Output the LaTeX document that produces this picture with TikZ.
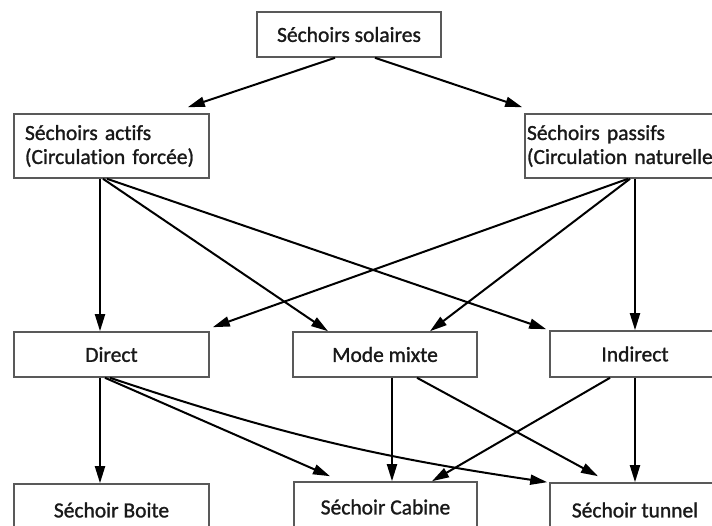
\documentclass[tikz,border=0pt]{standalone}
\usepackage{fontspec}
\setmainfont{Carlito}[Ligatures=CommonOff, UprightFeatures={FakeBold=1.2}]
\usetikzlibrary{arrows.meta}

\begin{document}
\begin{tikzpicture}[x=1pt, y=-1pt,
    box/.style={draw=black!65, line width=1.6pt, fill=white, inner sep=0pt,
      font=\fontsize{21.5}{24}\selectfont, text=black!90},
    link/.style={line width=2pt, -{Triangle[length=17pt,width=10pt]}}]
  \useasboundingbox (0,0) rectangle (712,526);
  \clip (0,0) rectangle (712,526);
  % boxes
  \node[box, minimum width=184pt, minimum height=45pt] (solaires) at (349,34.5) {Séchoirs solaires};
  \node[box, minimum height=64pt, text width=173pt, inner xsep=11pt, align=left]
    (actifs) at (111.5,146) {Séchoirs actifs\\(Circulation forcée)};
  \node[box, minimum height=64pt, text width=211pt, inner xsep=2pt, align=left]
    (passifs) at (632.5,146) {Séchoirs passifs\\(Circulation naturelle};
  \node[box, minimum width=195pt, minimum height=45pt] (direct) at (111.5,354.5) {Direct};
  \node[box, minimum width=184pt, minimum height=45pt] (mixte) at (385,354.5) {Mode mixte};
  \node[box, minimum width=170pt, minimum height=46pt] (indirect) at (635,354) {Indirect};
  \node[box, minimum width=195pt, minimum height=52pt] (boite) at (111.5,510) {Séchoir Boite};
  \node[box, minimum width=183pt, minimum height=50pt] (cabine) at (385.5,507) {Séchoir Cabine};
  \node[box, minimum width=170pt, minimum height=54pt] (tunnel) at (635,510) {Séchoir tunnel};
  % first level
  \draw[link] ([xshift=-14pt]solaires.south) -- ([xshift=-22pt,yshift=6pt]actifs.north east);
  \draw[link] ([xshift=26pt]solaires.south) -- ([xshift=-2pt,yshift=6pt]passifs.north west);
  % actifs
  \draw[link] ([xshift=-11.5pt]actifs.south) -- ([xshift=-11.5pt]direct.north);
  \draw[link] ([xshift=-8.5pt]actifs.south) -- ([xshift=-57pt]mixte.north);
  \draw[link] ([xshift=-4.5pt]actifs.south) -- ([xshift=-3pt,yshift=1pt]indirect.north west);
  % passifs
  \draw[link] ([xshift=2.5pt]passifs.south) -- (indirect.north);
  \draw[link] ([xshift=-2.5pt]passifs.south) -- ([xshift=45pt]mixte.north);
  \draw[link] ([xshift=-4.5pt]passifs.south) -- ([xshift=3pt,yshift=4pt]direct.north east);
  % direct
  \draw[link] ([xshift=-11.5pt]direct.south) -- ([xshift=-11.5pt]boite.north);
  \draw[link] ([xshift=-6.5pt]direct.south) -- ([xshift=-55.5pt,yshift=5pt]cabine.north);
  \draw[link] ([xshift=-1.5pt]direct.south) to[bend right=5] ([xshift=-2pt]tunnel.north west);
  % mode mixte
  \draw[link] ([xshift=7pt]mixte.south) -- ([xshift=6.5pt]cabine.north);
  \draw[link] ([xshift=32pt]mixte.south) -- ([xshift=-37pt,yshift=6pt]tunnel.north);
  % indirect
  \draw[link] ([xshift=-25pt]indirect.south) -- ([xshift=46.5pt]cabine.north);
  \draw[link] (indirect.south) -- (tunnel.north);
\end{tikzpicture}
\end{document}
